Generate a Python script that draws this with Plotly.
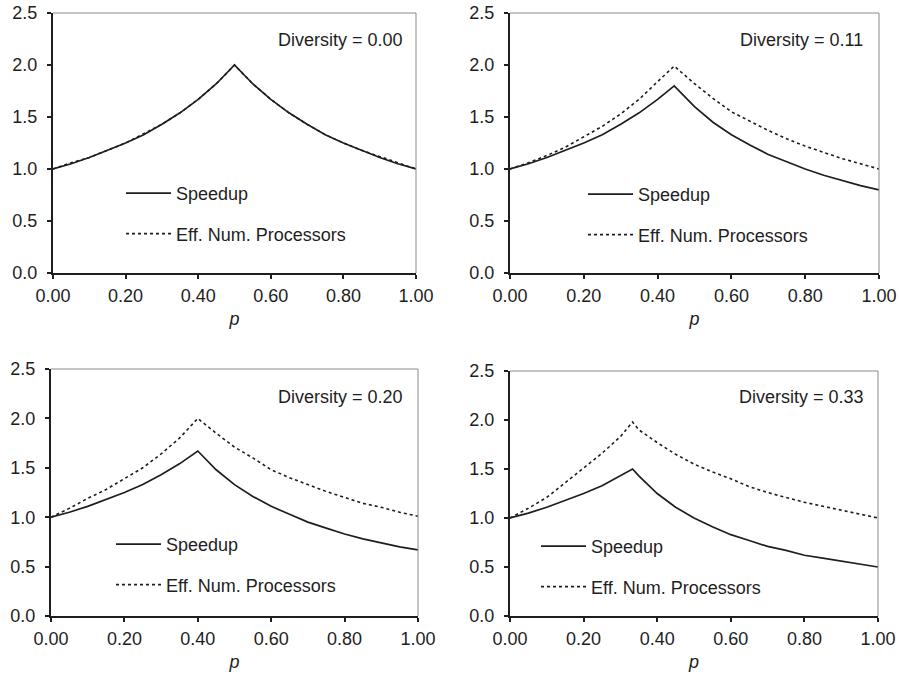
import plotly.graph_objects as go

# ---- data ----
DIVERSITY_LABELS = ["Diversity = 0.00", "Diversity = 0.11", "Diversity = 0.20", "Diversity = 0.33"]
SERIES_NAMES = ["Speedup", "Eff. Num. Processors"]
X_TICKS = [0.0, 0.2, 0.4, 0.6, 0.8, 1.0]
Y_TICKS = [0.0, 0.5, 1.0, 1.5, 2.0, 2.5]

P1 = [0.00, 0.05, 0.10, 0.15, 0.20, 0.25, 0.30, 0.35, 0.40, 0.45, 0.50,
      0.55, 0.60, 0.65, 0.70, 0.75, 0.80, 0.85, 0.90, 0.95, 1.00]
SPEED_1 = [1.00, 1.05, 1.11, 1.18, 1.25, 1.33, 1.43, 1.54, 1.67, 1.82, 2.00,
           1.82, 1.67, 1.54, 1.43, 1.33, 1.25, 1.18, 1.11, 1.05, 1.00]
EFF_1 = [1.00, 1.06, 1.11, 1.18, 1.25, 1.34, 1.43, 1.54, 1.67, 1.82, 2.00,
         1.82, 1.67, 1.54, 1.43, 1.33, 1.25, 1.18, 1.12, 1.06, 1.00]

P2 = [0.00, 0.05, 0.10, 0.15, 0.20, 0.25, 0.30, 0.35, 0.40, 0.445, 0.50,
      0.55, 0.60, 0.65, 0.70, 0.75, 0.80, 0.85, 0.90, 0.95, 1.00]
SPEED_2 = [1.00, 1.05, 1.11, 1.18, 1.25, 1.33, 1.43, 1.54, 1.67, 1.80, 1.60,
           1.45, 1.33, 1.23, 1.14, 1.07, 1.00, 0.94, 0.89, 0.84, 0.80]
EFF_2 = [1.00, 1.06, 1.13, 1.21, 1.31, 1.41, 1.53, 1.67, 1.84, 1.99, 1.82,
         1.68, 1.55, 1.46, 1.37, 1.29, 1.22, 1.16, 1.10, 1.05, 1.00]

P3 = [0.00, 0.05, 0.10, 0.15, 0.20, 0.25, 0.30, 0.35, 0.40, 0.45, 0.50,
      0.55, 0.60, 0.65, 0.70, 0.75, 0.80, 0.85, 0.90, 0.95, 1.00]
SPEED_3 = [1.00, 1.05, 1.11, 1.18, 1.25, 1.33, 1.43, 1.54, 1.67, 1.48, 1.33,
           1.21, 1.11, 1.03, 0.95, 0.89, 0.83, 0.78, 0.74, 0.70, 0.67]
EFF_3 = [1.00, 1.09, 1.19, 1.28, 1.39, 1.50, 1.64, 1.80, 2.00, 1.85, 1.71,
         1.60, 1.48, 1.40, 1.33, 1.26, 1.20, 1.14, 1.10, 1.05, 1.01]

P4 = [0.00, 0.05, 0.10, 0.15, 0.20, 0.25, 0.30, 0.333, 0.35, 0.40, 0.45,
      0.50, 0.55, 0.60, 0.65, 0.70, 0.75, 0.80, 0.85, 0.90, 0.95, 1.00]
SPEED_4 = [1.00, 1.05, 1.11, 1.18, 1.25, 1.33, 1.43, 1.50, 1.43, 1.25, 1.11,
           1.00, 0.91, 0.83, 0.77, 0.71, 0.67, 0.62, 0.59, 0.56, 0.53, 0.50]
EFF_4 = [1.00, 1.10, 1.21, 1.36, 1.51, 1.66, 1.83, 1.98, 1.90, 1.77, 1.65,
         1.55, 1.47, 1.40, 1.32, 1.26, 1.21, 1.16, 1.12, 1.08, 1.04, 1.00]

PANELS = [(P1, SPEED_1, EFF_1), (P2, SPEED_2, EFF_2), (P3, SPEED_3, EFF_3), (P4, SPEED_4, EFF_4)]

# ---- layout geometry ----
W, H = 899, 678
X_DOMAINS = [(53, 416), (510, 879), (51, 418), (510, 878)]
Y_DOMAINS = [(13, 273), (13, 273), (369, 616), (371, 616)]
LEGEND_POS = [(121, 175), (583, 176), (111, 526), (536, 528)]
ANNOT_POS = [(405, 40), (865, 40), (405, 397), (866, 397)]

FONT = "Liberation Sans, Arial, sans-serif"
INK = "#1e1e1e"

fig = go.Figure()
layout = dict(
    width=W, height=H,
    margin=dict(l=0, r=0, t=0, b=0),
    paper_bgcolor="white", plot_bgcolor="white",
    font=dict(family=FONT, size=18, color=INK),
    showlegend=True,
)
annotations = []
shapes = []

for i, (px, sp, ef) in enumerate(PANELS):
    n = i + 1
    xa = "x" if n == 1 else f"x{n}"
    ya = "y" if n == 1 else f"y{n}"
    lg = "legend" if n == 1 else f"legend{n}"
    fig.add_trace(go.Scatter(x=px, y=sp, mode="lines", name=SERIES_NAMES[0],
                             line=dict(color=INK, width=1.7), xaxis=xa, yaxis=ya,
                             legend=lg, legendgroup=f"s{n}"))
    fig.add_trace(go.Scatter(x=px, y=ef, mode="lines", name=SERIES_NAMES[1],
                             line=dict(color=INK, width=1.6, dash="dot"), xaxis=xa, yaxis=ya,
                             legend=lg, legendgroup=f"e{n}"))
    x0, x1 = X_DOMAINS[i]
    y0, y1 = Y_DOMAINS[i]
    xkey = "xaxis" if n == 1 else f"xaxis{n}"
    ykey = "yaxis" if n == 1 else f"yaxis{n}"
    layout[xkey] = dict(
        domain=[x0 / W, x1 / W], anchor=ya, range=[0, 1],
        tickvals=X_TICKS, tickformat=".2f", ticks="outside", ticklen=4,
        tickwidth=1.5, tickcolor=INK, showline=True, linecolor=INK, linewidth=2,
        showgrid=False, zeroline=False, ticklabelstandoff=1,
        tickfont=dict(size=18, family=FONT, color=INK),
        title=dict(text="<i>p</i>", font=dict(size=18, family=FONT, color=INK), standoff=8),
        automargin=False,
    )
    layout[ykey] = dict(
        domain=[1 - y1 / H, 1 - y0 / H], anchor=xa, range=[0, 2.5],
        tickvals=Y_TICKS, tickformat=".1f", ticks="outside", ticklen=4,
        tickwidth=1.5, tickcolor=INK, showline=True, linecolor=INK, linewidth=2,
        showgrid=False, zeroline=False, ticklabelstandoff=6,
        tickfont=dict(size=18, family=FONT, color=INK),
        automargin=False,
    )
    lx, ly = LEGEND_POS[i]
    layout[lg] = dict(
        x=lx / W, y=1 - ly / H, xanchor="left", yanchor="top",
        bgcolor="rgba(0,0,0,0)", borderwidth=0, tracegroupgap=14,
        font=dict(size=18, family=FONT, color=INK), itemwidth=45,
    )
    ax, ay = ANNOT_POS[i]
    annotations.append(dict(text=DIVERSITY_LABELS[i], x=ax / W, y=1 - ay / H,
                            xref="paper", yref="paper", xanchor="right", yanchor="middle",
                            showarrow=False, font=dict(size=18, family=FONT, color=INK)))
    # light frame on top and right edges
    shapes.append(dict(type="line", xref=f"{xa} domain", yref=f"{ya} domain",
                       x0=0, x1=1, y0=1, y1=1, line=dict(color="#8a8a8a", width=1)))
    shapes.append(dict(type="line", xref=f"{xa} domain", yref=f"{ya} domain",
                       x0=1, x1=1, y0=0, y1=1, line=dict(color="#8a8a8a", width=1)))

layout["annotations"] = annotations
layout["shapes"] = shapes
fig.update_layout(**layout)
fig.write_html("out.html", config={"displayModeBar": False},
               post_script="document.body.style.margin='0';document.body.style.overflow='hidden';")
